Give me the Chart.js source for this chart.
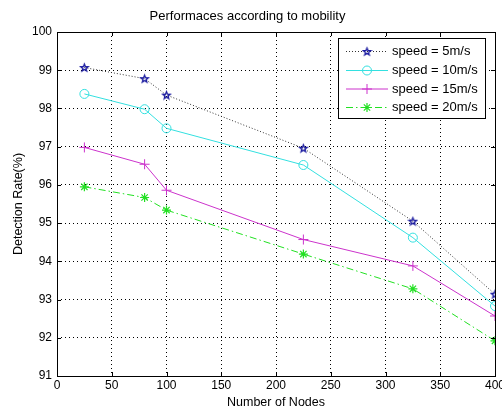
<!DOCTYPE html>
<html>
<head>
<meta charset="utf-8">
<script src="https://cdn.jsdelivr.net/npm/chart.js@4.4.1/dist/chart.umd.min.js"></script>
<style>
html, body { margin: 0; padding: 0; background: #fff; }
</style>
</head>
<body>
<canvas id="myChart" width="502" height="411"></canvas>
<script>
// number of nodes on the x axis
const nodes = [25, 80, 100, 225, 325, 400];

// detection rate (%) per speed
const speed5 = [99.07, 98.78, 98.35, 96.96, 95.05, 93.14];
const speed10 = [98.38, 97.98, 97.48, 96.52, 94.62, 92.83];
const speed15 = [96.98, 96.54, 95.86, 94.57, 93.88, 92.57];
const speed20 = [95.95, 95.67, 95.34, 94.19, 93.28, 91.92];

const seriesLabels = ['speed = 5m/s', 'speed = 10m/s', 'speed = 15m/s', 'speed = 20m/s'];

const xTicks = [0, 50, 100, 150, 200, 250, 300, 350, 400];
const yTicks = [91, 92, 93, 94, 95, 96, 97, 98, 99, 100];

const FONT = "'Liberation Sans', Arial, sans-serif";

// outlined five point star, used as a point image
function makePentagram(color, r) {
    const size = Math.ceil(r * 2 + 3);
    const c = document.createElement('canvas');
    c.width = size;
    c.height = size;
    const g = c.getContext('2d');
    g.strokeStyle = color;
    g.lineWidth = 1.3;
    g.beginPath();
    for (let i = 0; i < 10; i++) {
        const rad = i % 2 === 0 ? r : r * 0.42;
        const a = -Math.PI / 2 + i * Math.PI / 5;
        const px = size / 2 + rad * Math.cos(a);
        const py = size / 2 + 0.4 + rad * Math.sin(a);
        if (i === 0) g.moveTo(px, py); else g.lineTo(px, py);
    }
    g.closePath();
    g.stroke();
    return c;
}

const starImg = makePentagram('#1a1aa0', 3.9);

function toPoints(values) {
    return nodes.map((n, i) => ({ x: n, y: values[i] }));
}

const datasets = [
    {
        label: seriesLabels[0],
        data: toPoints(speed5),
        borderColor: '#333333',
        borderWidth: 1,
        borderDash: [1, 2],
        pointStyle: starImg,
        pointRadius: 4,
        pointBorderColor: '#1a1aa0',
        pointBackgroundColor: 'rgba(0,0,0,0)'
    },
    {
        label: seriesLabels[1],
        data: toPoints(speed10),
        borderColor: '#33e0e0',
        borderWidth: 1,
        pointStyle: 'circle',
        pointRadius: 4.5,
        pointBorderWidth: 1,
        pointBorderColor: '#33e0e0',
        pointBackgroundColor: 'rgba(0,0,0,0)'
    },
    {
        label: seriesLabels[2],
        data: toPoints(speed15),
        borderColor: '#cc33cc',
        borderWidth: 1,
        pointStyle: 'cross',
        pointRadius: 5,
        pointBorderWidth: 1,
        pointBorderColor: '#cc33cc',
        pointBackgroundColor: 'rgba(0,0,0,0)'
    },
    {
        label: seriesLabels[3],
        data: toPoints(speed20),
        borderColor: '#22e022',
        borderWidth: 1,
        borderDash: [7, 3, 1.5, 3],
        pointStyle: 'star',
        pointRadius: 4.5,
        pointBorderWidth: 1.2,
        pointBorderColor: '#22e022',
        pointBackgroundColor: 'rgba(0,0,0,0)'
    }
];

// legend marker for the custom legend box
function drawMarker(ctx, ds, x, y) {
    const r = ds.pointRadius;
    ctx.save();
    ctx.setLineDash([]);
    ctx.strokeStyle = ds.pointBorderColor;
    ctx.lineWidth = ds.pointBorderWidth || 1;
    if (ds.pointStyle instanceof HTMLCanvasElement) {
        ctx.drawImage(ds.pointStyle, x - ds.pointStyle.width / 2, y - ds.pointStyle.height / 2);
    } else if (ds.pointStyle === 'circle') {
        ctx.beginPath();
        ctx.arc(x, y, r, 0, Math.PI * 2);
        ctx.stroke();
    } else {
        ctx.beginPath();
        ctx.moveTo(x - r, y); ctx.lineTo(x + r, y);
        ctx.moveTo(x, y - r); ctx.lineTo(x, y + r);
        if (ds.pointStyle === 'star') {
            const d = r * Math.SQRT1_2;
            ctx.moveTo(x - d, y - d); ctx.lineTo(x + d, y + d);
            ctx.moveTo(x - d, y + d); ctx.lineTo(x + d, y - d);
        }
        ctx.stroke();
    }
    ctx.restore();
}

// axes box, inward ticks and the legend
const frameAndLegend = {
    id: 'frameAndLegend',
    afterDraw(chart) {
        const { ctx, chartArea: a, scales } = chart;
        ctx.save();
        ctx.strokeStyle = '#000';
        ctx.lineWidth = 1;
        ctx.setLineDash([]);
        ctx.strokeRect(Math.round(a.left) + 0.5, Math.round(a.top) + 0.5,
            Math.round(a.right - a.left), Math.round(a.bottom - a.top));

        const tl = 4;
        ctx.beginPath();
        xTicks.slice(1, -1).forEach(v => {
            const px = Math.round(scales.x.getPixelForValue(v)) + 0.5;
            ctx.moveTo(px, a.bottom); ctx.lineTo(px, a.bottom - tl);
            ctx.moveTo(px, a.top); ctx.lineTo(px, a.top + tl);
        });
        yTicks.slice(1, -1).forEach(v => {
            const py = Math.round(scales.y.getPixelForValue(v)) + 0.5;
            ctx.moveTo(a.left, py); ctx.lineTo(a.left + tl, py);
            ctx.moveTo(a.right, py); ctx.lineTo(a.right - tl, py);
        });
        ctx.stroke();

        // legend box
        const bx = 338.5, by = 38.5, bw = 147, bh = 80;
        ctx.fillStyle = '#fff';
        ctx.fillRect(bx, by, bw, bh);
        ctx.strokeRect(bx, by, bw, bh);
        const rows = [51, 70, 88.5, 107];
        ctx.font = '13px ' + FONT;
        ctx.textBaseline = 'middle';
        ctx.textAlign = 'left';
        chart.data.datasets.forEach((ds, i) => {
            const y = rows[i] + 0.5;
            ctx.save();
            ctx.strokeStyle = ds.borderColor;
            ctx.lineWidth = ds.borderWidth;
            ctx.setLineDash(ds.borderDash || []);
            ctx.beginPath();
            ctx.moveTo(346, y); ctx.lineTo(388, y);
            ctx.stroke();
            ctx.restore();
            drawMarker(ctx, ds, 367, y);
            ctx.fillStyle = '#000';
            ctx.fillText(ds.label, 392, y);
        });
        ctx.restore();
    }
};

const ctx = document.getElementById('myChart').getContext('2d');

new Chart(ctx, {
    type: 'line',
    data: { datasets: datasets },
    options: {
        responsive: false,
        animation: false,
        layout: { padding: { top: 0, right: 7, bottom: 0, left: 0 } },
        plugins: {
            legend: { display: false },
            tooltip: { enabled: false },
            title: {
                display: true,
                text: 'Performaces according to mobility',
                color: '#000',
                font: { family: FONT, size: 13, weight: 'normal' },
                padding: { top: 9, bottom: 7.4 }
            }
        },
        scales: {
            x: {
                type: 'linear',
                min: 0,
                max: 400,
                afterBuildTicks: s => { s.ticks = xTicks.map(v => ({ value: v })); },
                afterFit: s => { s.height = 35; s.paddingLeft = 0; s.paddingRight = 0; },
                ticks: { color: '#000', padding: 2, maxRotation: 0, font: { family: FONT, size: 12 } },
                grid: { color: '#000', lineWidth: 1, drawTicks: false },
                border: { display: false, dash: [1, 3] },
                title: {
                    display: true,
                    text: 'Number of Nodes',
                    color: '#000',
                    font: { family: FONT, size: 12.5 },
                    padding: { top: 0, bottom: 1 }
                }
            },
            y: {
                min: 91,
                max: 100,
                afterBuildTicks: s => { s.ticks = yTicks.map(v => ({ value: v })); },
                afterFit: s => { s.width = 57; s.paddingTop = 0; s.paddingBottom = 0; },
                ticks: { color: '#000', padding: 5, font: { family: FONT, size: 12 } },
                grid: { color: '#000', lineWidth: 1, drawTicks: false },
                border: { display: false, dash: [1, 3] },
                title: {
                    display: true,
                    text: 'Detection Rate(%)',
                    color: '#000',
                    font: { family: FONT, size: 12.5 },
                    padding: { top: 11, bottom: 0 }
                }
            }
        }
    },
    plugins: [frameAndLegend]
});
</script>
</body>
</html>
